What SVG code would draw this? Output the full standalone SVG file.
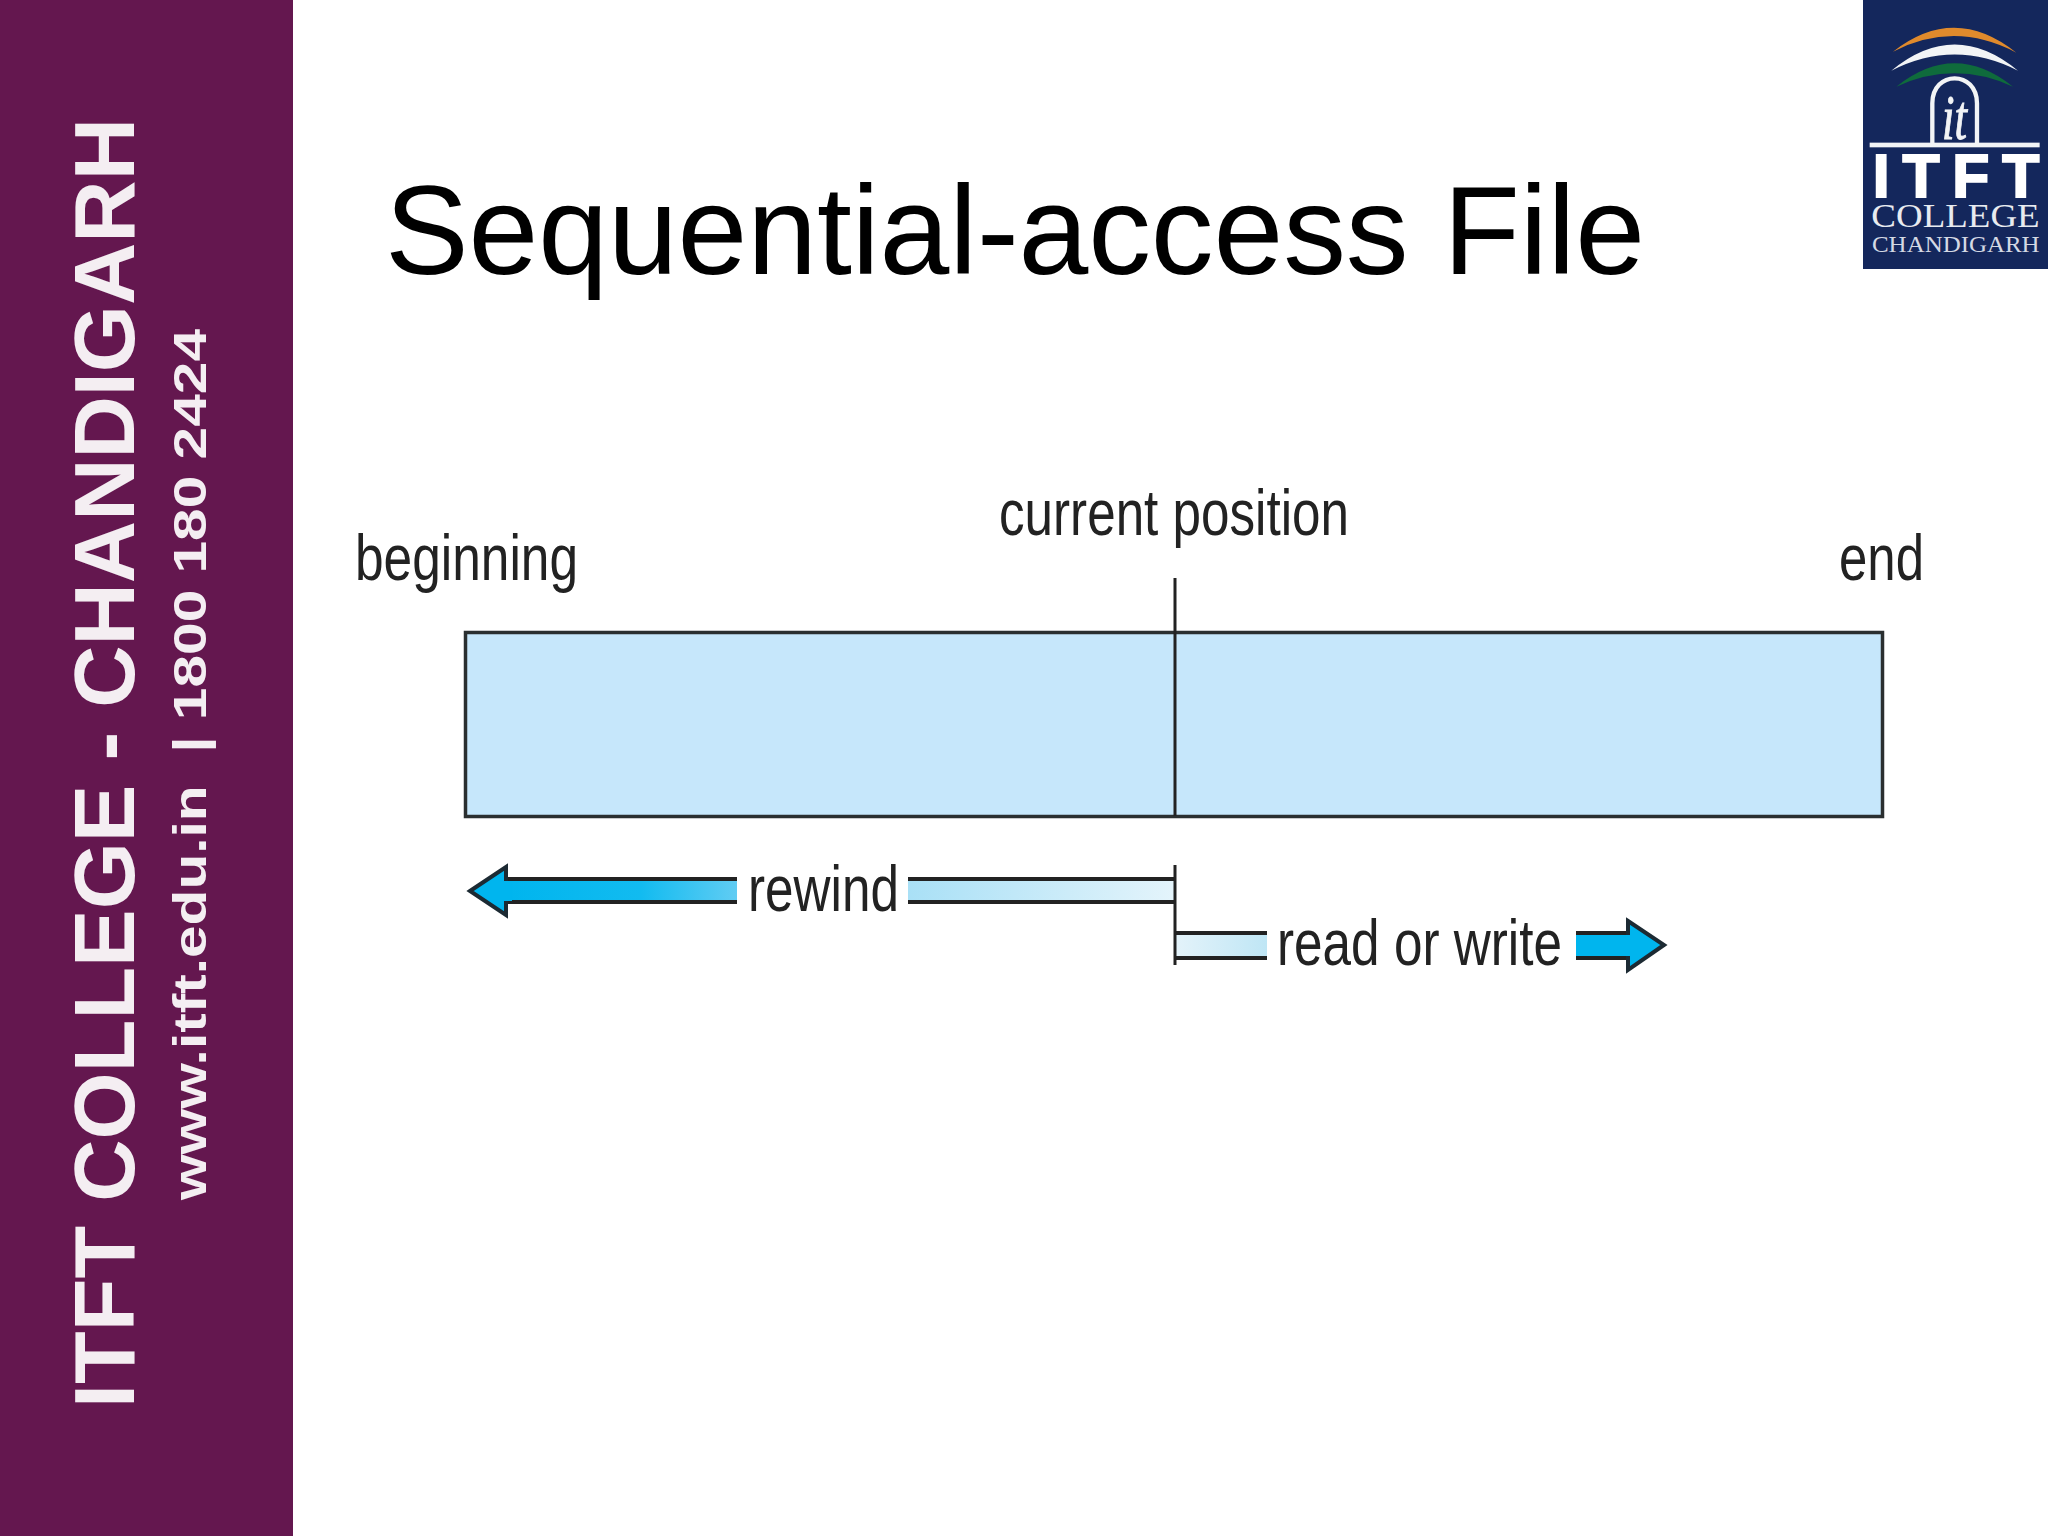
<svg xmlns="http://www.w3.org/2000/svg" width="2048" height="1536" viewBox="0 0 2048 1536">
<style>
.sans{font-family:"Liberation Sans",Arial,sans-serif}
.serif{font-family:"Liberation Serif","Times New Roman",serif}
.label{font-family:"Liberation Sans",Arial,sans-serif;font-size:64px;fill:#222}
.ln{stroke:#222;stroke-width:4;fill:none}
.head{stroke:#1c2a33;stroke-width:4;stroke-linejoin:miter;fill:#00b5ee}
</style>
<defs>
<linearGradient id="rw" gradientUnits="userSpaceOnUse" x1="507" y1="0" x2="1175" y2="0">
<stop offset="0" stop-color="#00b5ee"/><stop offset="0.2" stop-color="#12bbf0"/><stop offset="0.4" stop-color="#7fd3f4"/><stop offset="0.6" stop-color="#a9e0f6"/><stop offset="1" stop-color="#e4f4fb"/>
</linearGradient>
<linearGradient id="rd" gradientUnits="userSpaceOnUse" x1="1175" y1="0" x2="1267" y2="0">
<stop offset="0" stop-color="#e4f3fa"/><stop offset="1" stop-color="#bfe6f5"/>
</linearGradient>
</defs>
<rect width="2048" height="1536" fill="#ffffff"/>
<g id="sidebar">
<rect x="0" y="0" width="293" height="1536" fill="#64174f"/>
<text class="sans" transform="translate(134 1408) rotate(-90)" font-size="85" font-weight="700" fill="#f4eef2" textLength="1290" lengthAdjust="spacingAndGlyphs">ITFT COLLEGE - CHANDIGARH</text>
<text class="sans" transform="translate(206 1200) rotate(-90)" font-size="47" font-weight="700" fill="#f4eef2" textLength="871" lengthAdjust="spacingAndGlyphs" xml:space="preserve">www.itft.edu.in  | 1800 180 2424</text>
</g>
<g id="logo">
<rect x="1863" y="0" width="185" height="269" fill="#14275c"/>
<g transform="translate(1848 0) scale(0.3333)">
<path d="M135 155Q320 10 505 158Q320 60 135 155Z" fill="#e08a2c"/>
<path d="M130 212Q320 55 510 212Q320 115 130 212Z" fill="#f2f4f6"/>
<path d="M145 260Q320 120 495 260Q320 180 145 260Z" fill="#0f6b3c"/>
<path d="M253 432V310C253 210 387 210 387 310V432" fill="none" stroke="#f2f4f6" stroke-width="13"/>
<rect x="65" y="428" width="510" height="14" fill="#f2f4f6"/>
<text class="serif" x="282" y="418" font-size="190" font-style="italic" fill="#f2f4f6" stroke="#f2f4f6" stroke-width="3" textLength="75" lengthAdjust="spacingAndGlyphs">it</text>
<text class="sans" x="74" y="590" font-size="182" font-weight="700" fill="#ffffff" stroke="#ffffff" stroke-width="6" textLength="500" lengthAdjust="spacing">ITFT</text>
<text class="serif" x="70" y="682" font-size="102" fill="#e8ebf0" textLength="505" lengthAdjust="spacingAndGlyphs">COLLEGE</text>
<text class="serif" x="72" y="755" font-size="72" fill="#d4d9e4" textLength="503" lengthAdjust="spacingAndGlyphs">CHANDIGARH</text>
</g>
</g>
<text id="title" class="sans" x="385" y="274" font-size="125.500" fill="#000" textLength="1260">Sequential-access File</text>
<g id="file">
<rect x="465.500" y="632.500" width="1417" height="184" fill="#c6e7fb" stroke="#2a2f30" stroke-width="3.500"/>
</g>
<g id="labels">
<text id="beginning" class="label" x="355" y="580" textLength="223" lengthAdjust="spacingAndGlyphs">beginning</text>
<text id="current" class="label" x="999" y="535" textLength="350" lengthAdjust="spacingAndGlyphs">current position</text>
<text id="end" class="label" x="1839" y="580" textLength="85" lengthAdjust="spacingAndGlyphs">end</text>
<text id="rewind" class="label" x="748" y="911" textLength="151" lengthAdjust="spacingAndGlyphs">rewind</text>
<text id="readwrite" class="label" x="1277" y="965" textLength="285" lengthAdjust="spacingAndGlyphs">read or write</text>
</g>
<g id="connectors">
<path d="M505 881H737V901H505Z" fill="url(#rw)"/>
<path d="M908 881H1175V901H908Z" fill="url(#rw)"/>
<path class="ln" d="M505 879H737M505 902H737M908 879H1175M908 902H1175"/>
<path class="head" d="M470 891L506 867V915Z"/>
<path d="M504 881H512V901H504Z" fill="#00b5ee"/>
<path d="M1175 934H1267V956H1175Z" fill="url(#rd)"/>
<path class="ln" d="M1175 933H1267M1175 958H1267"/>
<path d="M1576 935H1630V956H1576Z" fill="#00b5ee"/>
<path class="ln" d="M1576 933H1628M1576 958H1628"/>
<path class="head" d="M1628 921L1664 945L1628 970Z"/>
<path d="M1622 935H1631V956H1622Z" fill="#00b5ee"/>
<path class="ln" style="stroke-width:3" d="M1175 578V816M1175 865V965"/>
</g>
</svg>
